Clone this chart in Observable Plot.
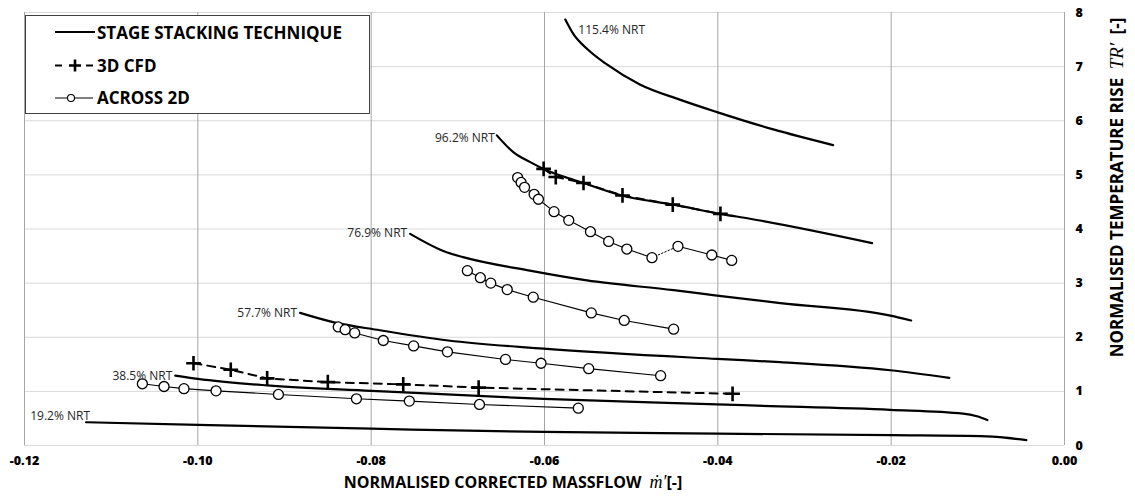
<!DOCTYPE html>
<html>
<head>
<meta charset="utf-8">
<script src="https://cdn.jsdelivr.net/npm/d3@7"></script>
<script src="https://cdn.jsdelivr.net/npm/@observablehq/plot@0.6"></script>
<style>
  html, body { margin: 0; padding: 0; background: #fff; }
  #chart svg { display: block; }
</style>
</head>
<body>
<div id="chart"></div>
<script>
// Compressor characteristics: normalised corrected massflow m' vs normalised temperature rise TR'.

// Speed lines (percent of nominal rotational speed)
const speedLabels = ["115.4% NRT", "96.2% NRT", "76.9% NRT", "57.7% NRT", "38.5% NRT", "19.2% NRT"];

// Stage stacking technique, one curve per speed: [m', TR']
const sst1154 = [[-0.0576, 7.87], [-0.0567, 7.61], [-0.0551, 7.33], [-0.0528, 7.04], [-0.0490, 6.67],
                 [-0.0444, 6.39], [-0.0401, 6.16], [-0.0336, 5.84], [-0.0267, 5.55]];
const sst962  = [[-0.0655, 5.73], [-0.0636, 5.42], [-0.0617, 5.24], [-0.0601, 5.11], [-0.0555, 4.85],
                 [-0.0511, 4.62], [-0.0451, 4.45], [-0.0397, 4.28], [-0.0363, 4.19], [-0.0222, 3.74]];
const sst769  = [[-0.0755, 3.91], [-0.0713, 3.57], [-0.0694, 3.48], [-0.0617, 3.23], [-0.0551, 3.05],
                 [-0.0451, 2.87], [-0.0401, 2.77], [-0.0328, 2.63], [-0.0201, 2.40], [-0.0177, 2.31]];
const sst577  = [[-0.0882, 2.45], [-0.0844, 2.28], [-0.0790, 2.13], [-0.0711, 1.94], [-0.0601, 1.79],
                 [-0.0401, 1.60], [-0.0328, 1.54], [-0.0201, 1.39], [-0.0133, 1.25]];
const sst385  = [[-0.1026, 1.29], [-0.1000, 1.23], [-0.0920, 1.11], [-0.0800, 1.01], [-0.0601, 0.86],
                 [-0.0401, 0.76], [-0.0363, 0.74], [-0.0201, 0.66], [-0.0117, 0.59], [-0.0101, 0.54],
                 [-0.0089, 0.47]];
const sst192  = [[-0.1129, 0.43], [-0.1000, 0.38], [-0.0800, 0.31], [-0.0600, 0.25], [-0.0401, 0.22],
                 [-0.0201, 0.19], [-0.0090, 0.17], [-0.0044, 0.10]];
const sstCurves = [sst1154, sst962, sst769, sst577, sst385, sst192];

// 3D CFD results
const cfd962 = [[-0.0601, 5.11], [-0.0587, 4.96], [-0.0555, 4.85], [-0.0510, 4.62], [-0.0452, 4.45], [-0.0397, 4.28]];
const cfd385 = [[-0.1005, 1.52], [-0.0962, 1.40], [-0.0920, 1.24], [-0.0850, 1.17], [-0.0763, 1.13],
                [-0.0676, 1.07], [-0.0383, 0.955]];

// ACROSS 2D results
const across962 = [[-0.0631, 4.95], [-0.0627, 4.86], [-0.0623, 4.77], [-0.0612, 4.64], [-0.0607, 4.55],
                   [-0.0589, 4.32], [-0.0572, 4.16], [-0.0547, 3.95], [-0.0526, 3.77], [-0.0505, 3.63],
                   [-0.0476, 3.47], [-0.0446, 3.68], [-0.0407, 3.52], [-0.0384, 3.42]];
const across962DottedAfter = 10; // link from this point to the next is dotted
const across769 = [[-0.0689, 3.23], [-0.0674, 3.10], [-0.0662, 3.00], [-0.0643, 2.88], [-0.0613, 2.74],
                   [-0.0546, 2.45], [-0.0508, 2.31], [-0.0451, 2.15]];
const across577 = [[-0.0838, 2.19], [-0.0830, 2.14], [-0.0819, 2.08], [-0.0786, 1.94], [-0.0751, 1.84],
                   [-0.0712, 1.73], [-0.0645, 1.59], [-0.0604, 1.52], [-0.0549, 1.42], [-0.0466, 1.29]];
const across385 = [[-0.1064, 1.14], [-0.1039, 1.09], [-0.1016, 1.05], [-0.0979, 1.01], [-0.0907, 0.943],
                   [-0.0817, 0.863], [-0.0756, 0.82], [-0.0675, 0.758], [-0.0561, 0.69]];

// Axis ticks
const massflowTicks = [-0.12, -0.10, -0.08, -0.06, -0.04, -0.02, 0.00];
const tempRiseTicks = [0, 1, 2, 3, 4, 5, 6, 7, 8];

// Legend entries
const legendItems = ["STAGE STACKING TECHNIQUE", "3D CFD", "ACROSS 2D"];

// ---- tables for the marks ----
const toRows = (pts, set) => pts.map(([m, tr], i) => ({set, i, m, tr}));
const sstRows = sstCurves.flatMap((pts, k) => toRows(pts, speedLabels[k]));
const cfdRows = [...toRows(cfd962, "cfd962"), ...toRows(cfd385, "cfd385")];

const acrossSolid = [
  ...toRows(across962.slice(0, across962DottedAfter + 1), "a962a"),
  ...toRows(across962.slice(across962DottedAfter + 1), "a962b"),
  ...toRows(across769, "a769"),
  ...toRows(across577, "a577"),
  ...toRows(across385, "a385")
];
const acrossDotted = toRows(across962.slice(across962DottedAfter, across962DottedAfter + 2), "a962gap");
const acrossPoints = [across962, across769, across577, across385].flatMap((p, k) => toRows(p, "a" + k));

// Speed label placement next to the start of each speed line
const labelPlacement = {
  "115.4% NRT": {textAnchor: "start", dx: 13, dy: 11},
  "96.2% NRT":  {textAnchor: "end", dx: -2, dy: 3},
  "76.9% NRT":  {textAnchor: "end", dx: -3, dy: -1},
  "57.7% NRT":  {textAnchor: "end", dx: -3, dy: 0},
  "38.5% NRT":  {textAnchor: "end", dx: -3, dy: 0},
  "19.2% NRT":  {textAnchor: "end", dx: 4, dy: -6}
};
const labelMarks = speedLabels.map((s, k) => {
  const [m, tr] = sstCurves[k][0];
  return Plot.text([{m, tr, s}], {
    x: "m", y: "tr", text: "s",
    ...labelPlacement[s],
    fontSize: 12, fill: "#262626", fontFamily: "'Open Sans', sans-serif"
  });
});

const W = 1135, H = 498;

const chart = Plot.plot({
  width: W,
  height: H,
  marginLeft: 24,
  marginRight: 71,
  marginTop: 12,
  marginBottom: 53,
  style: {fontFamily: "'Open Sans', sans-serif", background: "#fff", color: "#111", overflow: "visible"},
  x: {domain: [-0.12, 0], axis: null},
  y: {domain: [0, 8], axis: null},
  marks: [
    Plot.gridY(tempRiseTicks, {stroke: "#d9d9d9", strokeOpacity: 1, strokeWidth: 1}),
    Plot.gridX(massflowTicks, {stroke: "#a6a6a6", strokeOpacity: 1, strokeWidth: 1}),

    // stage stacking technique
    Plot.line(sstRows, {x: "m", y: "tr", z: "set", stroke: "#000", strokeWidth: 2.2, curve: "monotone-x"}),

    // 3D CFD
    Plot.line(cfdRows, {x: "m", y: "tr", z: "set", stroke: "#000", strokeWidth: 2, strokeDasharray: "8,6"}),
    Plot.dot(cfdRows, {x: "m", y: "tr", symbol: "plus", r: 4.8, stroke: "#000", strokeWidth: 2.6}),

    // ACROSS 2D
    Plot.line(acrossSolid, {x: "m", y: "tr", z: "set", stroke: "#000", strokeWidth: 1.1}),
    Plot.line(acrossDotted, {x: "m", y: "tr", z: "set", stroke: "#000", strokeWidth: 1, strokeDasharray: "1.5,2"}),
    Plot.dot(acrossPoints, {x: "m", y: "tr", r: 5, fill: "#fff", stroke: "#000", strokeWidth: 1.3}),

    ...labelMarks,

    // tick labels, placed with the x and y scales
    Plot.text(massflowTicks, {
      x: d => d, frameAnchor: "bottom", dy: 19, text: d => d.toFixed(2),
      fontSize: 12.5, fontWeight: 800, fill: "#000"
    }),
    Plot.text(tempRiseTicks, {
      y: d => d, frameAnchor: "right", dx: 11, textAnchor: "start", text: d => String(d),
      fontSize: 12.5, fontWeight: 800, fill: "#000"
    })
  ]
});

document.getElementById("chart").appendChild(chart);

// ---- axis titles and legend ----
const svg = d3.select(chart);
const boldFont = "'Open Sans', sans-serif";
const mathFont = "'Liberation Serif', 'DejaVu Serif', serif";

const xTitle = svg.append("text")
  .attr("x", 513).attr("y", 488)
  .attr("text-anchor", "middle")
  .attr("fill", "#000")
  .style("font-family", boldFont).style("font-size", "16px").style("font-weight", "bold");
xTitle.append("tspan").text("NORMALISED CORRECTED MASSFLOW\u2002");
xTitle.append("tspan").style("font-family", mathFont).style("font-style", "italic")
  .style("font-weight", "normal").style("font-size", "18px").text("\u1E41\u2032");
xTitle.append("tspan").text("[-]");

const yTitle = svg.append("text")
  .attr("transform", "translate(1123,187.5) rotate(-90)")
  .attr("text-anchor", "middle")
  .attr("fill", "#000")
  .style("font-family", boldFont).style("font-size", "17px").style("font-weight", "bold");
yTitle.append("tspan").text("NORMALISED TEMPERATURE RISE\u2002");
yTitle.append("tspan").style("font-family", mathFont).style("font-style", "italic")
  .style("font-weight", "normal").style("font-size", "19px").text("TR\u2032");
yTitle.append("tspan").text("\u2002[-]");

const legend = svg.append("g").attr("text-anchor", "start");
legend.append("rect")
  .attr("x", 25.5).attr("y", 15.5).attr("width", 344).attr("height", 98)
  .attr("fill", "#fff").attr("stroke", "#404040").attr("stroke-width", 1);

const rowBaselines = [38.5, 71.9, 104.2];
const rowCenters = [32, 65.5, 98];

// sample: stage stacking
legend.append("line").attr("x1", 55).attr("x2", 95).attr("y1", rowCenters[0]).attr("y2", rowCenters[0])
  .attr("stroke", "#000").attr("stroke-width", 2);
// sample: 3D CFD
legend.append("line").attr("x1", 55).attr("x2", 62).attr("y1", rowCenters[1]).attr("y2", rowCenters[1])
  .attr("stroke", "#000").attr("stroke-width", 2);
legend.append("line").attr("x1", 86).attr("x2", 93).attr("y1", rowCenters[1]).attr("y2", rowCenters[1])
  .attr("stroke", "#000").attr("stroke-width", 2);
legend.append("path").attr("d", `M69,${rowCenters[1]}H81M75,${rowCenters[1] - 6}V${rowCenters[1] + 6}`)
  .attr("stroke", "#000").attr("stroke-width", 2.6).attr("fill", "none");
// sample: ACROSS 2D
legend.append("line").attr("x1", 55).attr("x2", 93).attr("y1", rowCenters[2]).attr("y2", rowCenters[2])
  .attr("stroke", "#000").attr("stroke-width", 1.1);
legend.append("circle").attr("cx", 71).attr("cy", rowCenters[2]).attr("r", 3.5)
  .attr("fill", "#fff").attr("stroke", "#000").attr("stroke-width", 1.1);

legend.selectAll("text.item").data(legendItems).join("text")
  .attr("class", "item")
  .attr("x", 97).attr("y", (d, i) => rowBaselines[i])
  .attr("text-anchor", "start")
  .attr("fill", "#000")
  .style("font-family", boldFont).style("font-size", "17px").style("font-weight", "bold")
  .text(d => d);
</script>
</body>
</html>
